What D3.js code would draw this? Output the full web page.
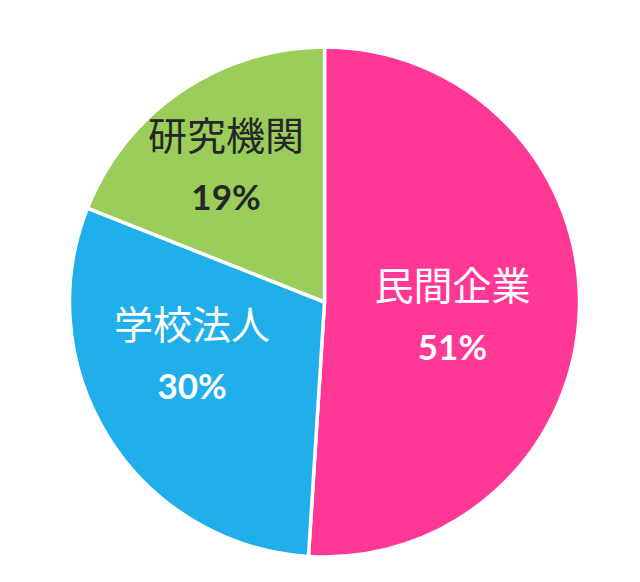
<!DOCTYPE html>
<html lang="ja">
<head>
    <meta charset="UTF-8">
    <title>Pie chart</title>
    <script src="https://cdnjs.cloudflare.com/ajax/libs/d3/7.8.5/d3.min.js"></script>
    <style>
        body {
            margin: 0;
            background-color: #ffffff;
        }
        .name {
            font-family: "Noto Sans CJK JP", sans-serif;
            font-size: 39px;
            font-weight: 400;
        }
        .pct {
            font-family: Lato, "Open Sans", sans-serif;
            font-size: 35px;
            font-weight: 700;
        }
    </style>
</head>
<body>
    <svg id="chart" width="640" height="582"></svg>

    <script>
        // Data
        const categories = ["民間企業", "学校法人", "研究機関"];
        const shares = [51, 30, 19];
        const sliceColors = ["#fe3894", "#20afea", "#9acd5a"];
        const labelColors = ["#ffffff", "#ffffff", "#262626"];

        const width = 640;
        const height = 582;
        const cx = 324.5;
        const cy = 302;
        const radius = 255;

        // small nudges so labels sit where the original put them
        const labelNudge = {
            "民間企業": [-17, 14],
            "学校法人": [-10, -20],
            "研究機関": [-17, -11]
        };

        const svg = d3.select("#chart")
            .attr("width", width)
            .attr("height", height);

        const g = svg.append("g")
            .attr("transform", `translate(${cx},${cy})`);

        const rows = categories.map((c, i) => ({
            name: c,
            value: shares[i],
            color: sliceColors[i],
            textColor: labelColors[i]
        }));

        const pie = d3.pie()
            .value(d => d.value)
            .sort(null);

        const arc = d3.arc()
            .innerRadius(0)
            .outerRadius(radius);

        const labelArc = d3.arc()
            .innerRadius(145)
            .outerRadius(145);

        const arcs = pie(rows);

        g.selectAll("path.slice")
            .data(arcs)
            .enter()
            .append("path")
            .attr("class", "slice")
            .attr("d", arc)
            .attr("fill", d => d.data.color)
            .attr("stroke", "#ffffff")
            .attr("stroke-width", 3.5)
            .attr("stroke-linejoin", "round");

        const labels = g.selectAll("g.label")
            .data(arcs)
            .enter()
            .append("g")
            .attr("class", "label")
            .attr("transform", d => {
                const [x, y] = labelArc.centroid(d);
                const n = labelNudge[d.data.name];
                return `translate(${x + n[0]},${y + n[1]})`;
            });

        labels.append("text")
            .attr("class", "name")
            .attr("text-anchor", "middle")
            .attr("y", -21)
            .attr("fill", d => d.data.textColor)
            .text(d => d.data.name);

        labels.append("text")
            .attr("class", "pct")
            .attr("text-anchor", "middle")
            .attr("y", 39)
            .attr("fill", d => d.data.textColor)
            .text(d => d.data.value + "%");
    </script>
</body>
</html>
